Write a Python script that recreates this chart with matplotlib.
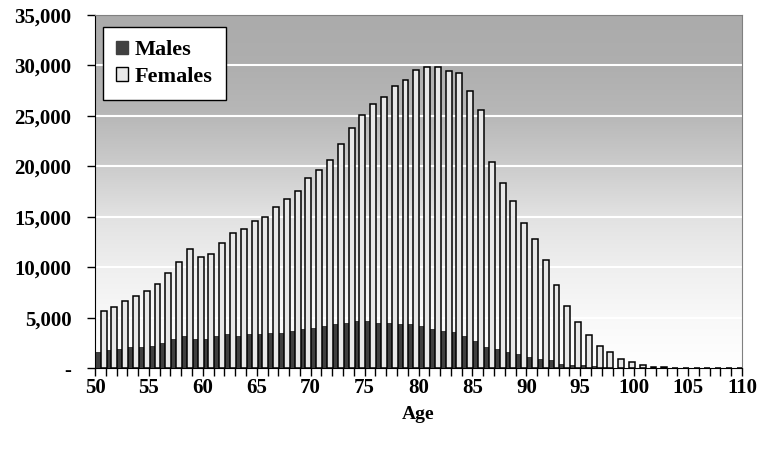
import numpy as np
import matplotlib
matplotlib.use("Agg")
import matplotlib.pyplot as plt
from matplotlib.colors import LinearSegmentedColormap
from matplotlib.ticker import FuncFormatter, MultipleLocator
from matplotlib.patches import Patch

# dane: wiek 50..109, liczba mężczyzn i kobiet
ages = np.arange(50, 110)
males = [1590, 1780, 1910, 2080, 2080, 2240, 2540, 2870, 3200, 2870,
         2870, 3200, 3370, 3200, 3370, 3370, 3530, 3530, 3700, 3860,
         4020, 4190, 4360, 4520, 4690, 4690, 4520, 4520, 4360, 4360,
         4190, 3860, 3700, 3560, 3200, 2740, 2110, 1950, 1620, 1450,
         1120, 920, 790, 460, 300, 300, 180, 120, 70, 40,
         20, 10, 5, 0, 0, 0, 0, 0, 0, 0]
females = [5710, 6040, 6700, 7160, 7660, 8320, 9410, 10530, 11850, 11000,
           11320, 12450, 13430, 13770, 14560, 15020, 15980, 16770, 17600, 18820,
           19650, 20600, 22190, 23810, 25090, 26220, 26850, 27970, 28600, 29580,
           29880, 29880, 29420, 29250, 27500, 25590, 20440, 18390, 16600, 14360,
           12780, 10700, 8280, 6200, 4590, 3330, 2210, 1580, 920, 620,
           300, 160, 160, 0, 0, 0, 0, 0, 0, 0]

serif = ['Liberation Serif', 'DejaVu Serif']
plt.rcParams['font.family'] = serif
plt.rcParams['font.weight'] = 'bold'

fig = plt.figure(figsize=(7.57, 4.51), dpi=100)
ax = fig.add_axes([0.1255, 0.1834, 0.8547, 0.7833])

# tło z gradientem (ciemne u góry, białe na dole)
stops = [(0.0, 1.0), (0.14, 0.975), (0.29, 0.935), (0.43, 0.885),
         (0.57, 0.80), (0.714, 0.72), (0.857, 0.685), (1.0, 0.67)]
cmap = LinearSegmentedColormap.from_list('bg', [(p, (g, g, g)) for p, g in stops])
grad = np.linspace(0, 1, 256).reshape(-1, 1)
ax.imshow(grad, extent=[50, 110, 0, 35000], origin='lower', aspect='auto',
          cmap=cmap, vmin=0, vmax=1, zorder=0)

for y in range(5000, 35000, 5000):
    ax.axhline(y, color='white', lw=1.5, zorder=1)

ax.bar(ages, males, width=0.62, align='edge', color='#404040', lw=0, zorder=2)
ax.bar(ages + 0.52, females, width=0.55, align='edge', color='#e8e8e8',
       edgecolor='black', lw=1.1, zorder=3)

ax.set_xlim(50, 110)
ax.set_ylim(0, 35000)
ax.xaxis.set_major_locator(MultipleLocator(5))
ax.xaxis.set_minor_locator(MultipleLocator(1))
ax.yaxis.set_major_locator(MultipleLocator(5000))
ax.yaxis.set_major_formatter(FuncFormatter(lambda v, p: '-' if v == 0 else f'{int(v):,}'))

ax.tick_params(axis='y', labelsize=15, length=6, width=1, pad=11)
ax.tick_params(axis='x', which='both', labelsize=15, length=6, width=1, pad=1)
for lab in ax.get_xticklabels() + ax.get_yticklabels():
    lab.set_fontweight('bold')

for side in ['top', 'right']:
    ax.spines[side].set_color('#808080')
for side in ['left', 'bottom']:
    ax.spines[side].set_color('black')

ax.set_xlabel('Age', fontsize=14, fontweight='bold', labelpad=6)

handles = [Patch(facecolor='#404040', edgecolor='#404040', label='Males'),
           Patch(facecolor='#e8e8e8', edgecolor='black', label='Females')]
leg = ax.legend(handles=handles, loc='upper left', bbox_to_anchor=(0.012, 0.966),
                borderaxespad=0, fancybox=False, framealpha=1, edgecolor='black',
                prop={'family': serif, 'weight': 'bold', 'size': 16},
                handlelength=0.55, handleheight=0.55, handletextpad=0.3,
                borderpad=0.6, labelspacing=0.3)
leg.get_frame().set_linewidth(1)

fig.savefig('out.png', dpi=100)
